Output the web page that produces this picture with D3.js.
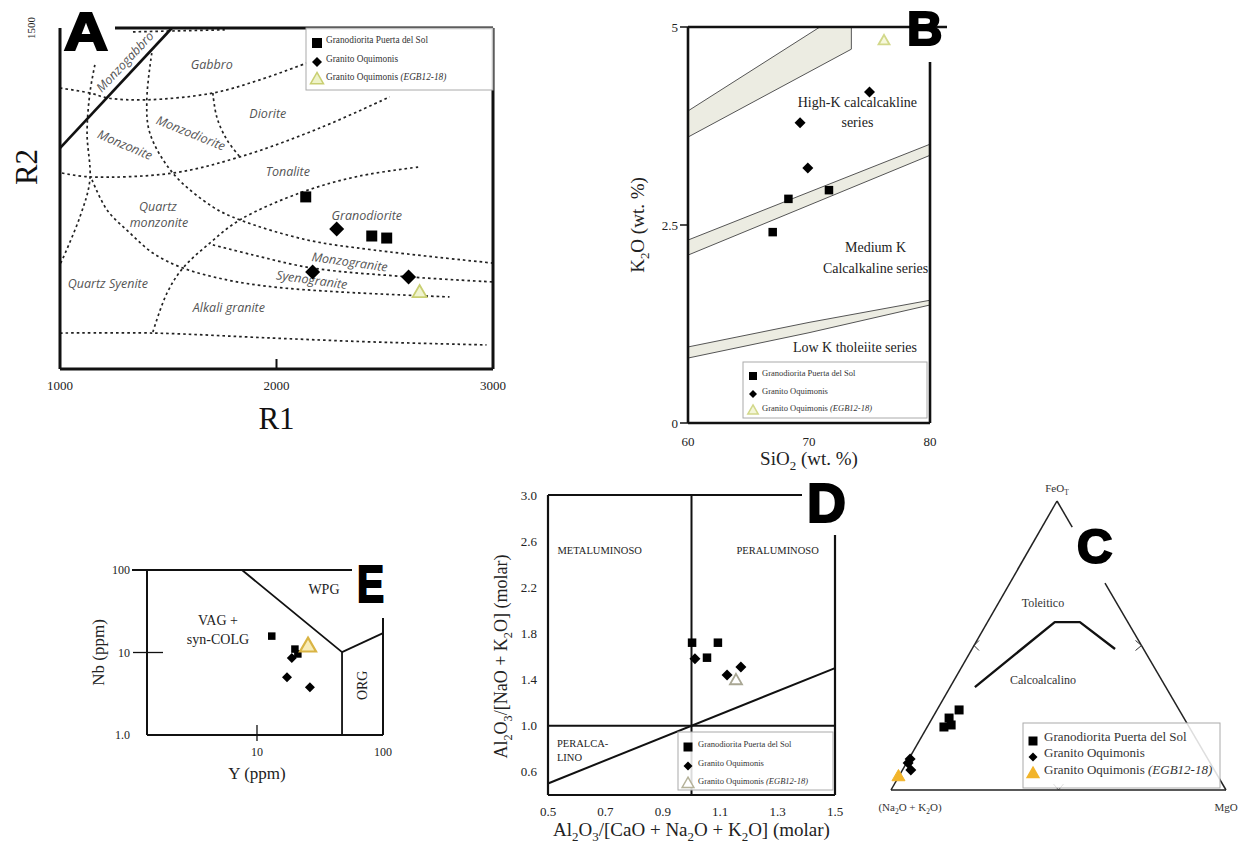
<!DOCTYPE html>
<html>
<head>
<meta charset="utf-8">
<script src="https://cdn.jsdelivr.net/npm/d3@7"></script>
<style>
  body { margin: 0; background: #fff; }
  svg { display: block; }
</style>
</head>
<body>
<svg id="fig" width="1244" height="844"></svg>
<script>
// ---------- data: panel A (R1-R2) ----------
const aSquares = [[2135, 757], [2440, 585], [2509, 576]];
const aDiamonds = [[2278, 616], [2167, 427], [2610, 405]];
const aTriangles = [[2661, 334]];
const aSolid = [[1000, 972], [1517, 1500]];
const aDashed = [
  [[1337, 1483], [1761, 1492]],
  [[1000, 1236], [1138, 1214], [1221, 1192], [1401, 1184], [1706, 1214], [1923, 1272], [2140, 1346]],
  [[1009, 862], [1138, 845], [1521, 862], [1831, 933], [2200, 1060], [2523, 1197]],
  [[1429, 163], [1494, 334], [1568, 444], [1692, 554], [1831, 656], [2121, 779], [2384, 849], [2661, 889]],
  [[1161, 1338], [1138, 1214], [1125, 1038], [1138, 832], [1092, 669], [1000, 458]],
  [[1424, 1390], [1401, 1184], [1415, 1038], [1521, 862], [1706, 713], [1831, 656], [2140, 568], [2444, 524], [3000, 466]],
  [[1148, 832], [1217, 700], [1323, 598], [1429, 510], [1568, 444], [1771, 392], [1983, 361], [2292, 339], [2799, 317]],
  [[1706, 546], [1890, 502], [2167, 444], [2615, 405], [3000, 383]],
  [[1000, 158], [1429, 158], [1983, 136], [2444, 119], [2970, 106]],
  [[1706, 1214], [1724, 1109], [1771, 1008], [1831, 933]]
];
const aFields = [
  ["Monzogabbro", 1300, 1351, -47], ["Gabbro", 1701, 1338, 0], ["Diorite", 1960, 1122, 0],
  ["Monzodiorite", 1604, 1038, 22], ["Monzonite", 1300, 986, 23], ["Tonalite", 2052, 867, 0],
  ["Quartz", 1452, 713, 0], ["monzonite", 1457, 642, 0], ["Granodiorite", 2417, 673, 0],
  ["Monzogranite", 2338, 471, 8], ["Syenogranite", 2163, 392, 8], ["Quartz Syenite", 1221, 374, 0],
  ["Alkali granite", 1780, 268, 0]
];
const aTicks = [1000, 2000, 3000];

// ---------- data: panel B (SiO2-K2O) ----------
const bSquares = [[67.0, 2.41], [68.3, 2.83], [71.65, 2.94]];
const bDiamonds = [[69.26, 3.79], [69.9, 3.22], [75.0, 4.18]];
const bTriangles = [[76.2, 4.82]];
const bBands = [
  [[60, 3.94], [70.9, 5.0], [73.5, 5.0], [73.5, 4.72], [60, 3.61]],
  [[60, 2.31], [80, 3.52], [80, 3.38], [60, 2.12]],
  [[60, 0.96], [70, 1.27], [80, 1.55], [80, 1.49], [70, 1.14], [60, 0.82]]
];
const bXTicks = [60, 70, 80];
const bYTicks = [0, 2.5, 5];
const bYTickLabels = ["0", "2.5", "5"];

// ---------- data: panel E (Y-Nb) ----------
const eSquares = [[13.1, 15.8], [20.0, 11.0], [21.1, 9.6]];
const eDiamonds = [[18.9, 8.6], [17.3, 5.0], [26.3, 3.8]];
const eTriangles = [[25.4, 11.7]];
const eBounds = [
  [[7.6, 100], [47.3, 10.1], [47.3, 1]],
  [[47.3, 10.1], [100, 17.2]]
];

// ---------- data: panel D (A/CNK-A/NK) ----------
const dSquares = [[1.002, 1.72], [1.092, 1.72], [1.054, 1.59]];
const dDiamonds = [[1.012, 1.58], [1.172, 1.51], [1.124, 1.44]];
const dTriangles = [[1.155, 1.39]];
const dXTicks = [0.5, 0.7, 0.9, 1.1, 1.3, 1.5];
const dYTicks = [0.6, 1.0, 1.4, 1.8, 2.2, 2.6, 3.0];

// ---------- data: panel C (AFM ternary, [alk, FeOT, MgO]) ----------
const cSquares = [[0.657, 0.277, 0.066], [0.701, 0.249, 0.050], [0.732, 0.218, 0.050], [0.707, 0.225, 0.068]];
const cDiamonds = [[0.889, 0.107, 0.004], [0.906, 0.069, 0.025], [0.902, 0.093, 0.005]];
const cTriangles = [[0.955, 0.045, 0.0]];
const cCurve = [[0.570, 0.356, 0.074], [0.218, 0.581, 0.201], [0.143, 0.581, 0.276], [0.085, 0.488, 0.427]];

const legendNames = ["Granodiorita Puerta del Sol", "Granito Oquimonis", "Granito Oquimonis "];

// ---------- helpers ----------
const serif = "'Liberation Serif', 'Times New Roman', serif";
const sans = "'Liberation Sans', Arial, sans-serif";
const gill = "'Open Sans', Lato, sans-serif";
const svg = d3.select('#fig');

function sym(type, size) {
  if (type === 'square') return d3.symbol(d3.symbolSquare, size * size)();
  if (type === 'diamond') return d3.symbol(d3.symbolSquare, size * size / 2)();
  return d3.symbol(d3.symbolTriangle, size * size * 0.433)();
}

function marks(g, pts, px, type, size, fill, stroke, sw) {
  g.append('g').selectAll('path').data(pts).join('path')
    .attr('d', sym(type, size))
    .attr('transform', d => {
      const [x, y] = px(d);
      return `translate(${x},${y})` + (type === 'diamond' ? ' rotate(45)' : '');
    })
    .attr('fill', fill)
    .attr('stroke', stroke || 'none')
    .attr('stroke-width', sw || 0);
}

function rich(t, parts, base) {
  let shift = 0;
  parts.forEach(([s, st]) => {
    const target = st === 'sub' ? base * 0.28 : 0;
    const sp = t.append('tspan').text(s).attr('dy', target - shift);
    shift = target;
    if (st === 'sub') sp.attr('font-size', base * 0.68);
    if (st === 'it') sp.attr('font-style', 'italic');
  });
}

function hline(g, x1, x2, y, w) {
  g.append('line').attr('x1', x1).attr('x2', x2).attr('y1', y).attr('y2', y)
    .attr('stroke', '#111').attr('stroke-width', w);
}
function vline(g, x, y1, y2, w) {
  g.append('line').attr('x1', x).attr('x2', x).attr('y1', y1).attr('y2', y2)
    .attr('stroke', '#111').attr('stroke-width', w);
}

function bigLetter(ch, x, y, size, sx) {
  svg.append('text').text(ch)
    .attr('transform', `translate(${x},${y}) scale(${sx},1)`)
    .attr('font-family', sans).attr('font-weight', 'bold').attr('font-size', size)
    .attr('fill', '#000').attr('stroke', '#000').attr('stroke-width', 2.2);
}

function legend(g, box, rowY, mx, tx, fs, ms, tri) {
  g.append('rect').attr('x', box[0]).attr('y', box[1])
    .attr('width', box[2] - box[0]).attr('height', box[3] - box[1])
    .attr('fill', '#fff').attr('fill-opacity', 0.85).attr('stroke', '#aaa').attr('stroke-width', 1);
  const types = ['square', 'diamond', 'triangle'];
  legendNames.forEach((name, i) => {
    const isTri = types[i] === 'triangle';
    marks(g, [[mx, rowY[i]]], d => d, types[i], isTri ? ms * 1.3 : ms,
      isTri ? tri.fill : '#000', isTri ? tri.stroke : null, isTri ? 1.5 : 0);
    const t = g.append('text').attr('x', tx).attr('y', rowY[i]).attr('dy', '0.35em')
      .attr('font-family', serif).attr('font-size', fs).attr('fill', '#333');
    const parts = [[name, '']];
    if (i === 2) parts.push(['(EGB12-18)', 'it']);
    rich(t, parts, fs);
  });
}

// ================= Panel A =================
const xA = d3.scaleLinear().domain([1000, 3000]).range([60, 493]);
const yA = d3.scaleLinear().domain([0, 1500]).range([369, 28]);
const gA = svg.append('g');
const lineA = d3.line().x(d => xA(d[0])).y(d => yA(d[1])).curve(d3.curveCatmullRom.alpha(0.5));

gA.append('g').selectAll('path').data(aDashed).join('path')
  .attr('d', lineA).attr('fill', 'none').attr('stroke', '#222')
  .attr('stroke-width', 1.7).attr('stroke-dasharray', '2.6,3');
gA.append('path').attr('d', d3.line().x(d => xA(d[0])).y(d => yA(d[1]))(aSolid))
  .attr('fill', 'none').attr('stroke', '#111').attr('stroke-width', 2.6);

gA.append('g').selectAll('text').data(aFields).join('text')
  .attr('transform', d => `translate(${xA(d[1])},${yA(d[2])}) rotate(${d[3]})`)
  .attr('text-anchor', 'middle').attr('dy', '0.35em')
  .attr('font-family', gill).attr('font-style', 'italic').attr('font-size', 12.5)
  .attr('fill', '#555').text(d => d[0]);

vline(gA, xA(1000), yA(1500), yA(0), 3);
vline(gA, xA(3000), yA(1500), yA(0), 3);
hline(gA, xA(1000), xA(3000), yA(0), 3);
hline(gA, 115, xA(3000), yA(1500), 3);
vline(gA, xA(2000), yA(0) - 10, yA(0), 2);

legend(gA, [306, 28, 493, 90], [43, 62, 80], 317, 326, 9.3, 10, { fill: '#eef3c8', stroke: '#c9cf72' });

marks(gA, aSquares, d => [xA(d[0]), yA(d[1])], 'square', 11, '#000');
marks(gA, aDiamonds, d => [xA(d[0]), yA(d[1])], 'diamond', 15, '#000');
marks(gA, aTriangles, d => [xA(d[0]), yA(d[1])], 'triangle', 14, '#f0f4d0', '#c9cf72', 1.8);

gA.append('g').selectAll('text').data(aTicks).join('text')
  .attr('x', d => xA(d)).attr('y', 390).attr('text-anchor', 'middle')
  .attr('font-family', serif).attr('font-size', 13).attr('fill', '#222').text(d => d);
gA.append('text').attr('transform', `translate(35,${yA(1500)}) rotate(-90)`)
  .attr('text-anchor', 'middle').attr('font-family', serif).attr('font-size', 11).attr('fill', '#222').text('1500');
gA.append('text').attr('x', xA(2000)).attr('y', 429).attr('text-anchor', 'middle')
  .attr('font-family', serif).attr('font-size', 31).attr('fill', '#111').text('R1');
gA.append('text').attr('transform', 'translate(37,167) rotate(-90)').attr('text-anchor', 'middle')
  .attr('font-family', serif).attr('font-size', 31).attr('fill', '#111').text('R2');

// ================= Panel B =================
const xB = d3.scaleLinear().domain([60, 80]).range([688, 930]);
const yB = d3.scaleLinear().domain([0, 5]).range([423, 27]);
const gB = svg.append('g');
const lineB = d3.line().x(d => xB(d[0])).y(d => yB(d[1]));

gB.append('g').selectAll('path').data(bBands).join('path')
  .attr('d', d => lineB(d) + 'Z').attr('fill', '#ececE2').attr('stroke', '#555').attr('stroke-width', 1);

const bText = [["High-K calcalcakline", 74.0, 4.05], ["series", 74.0, 3.80], ["Medium K", 75.5, 2.22],
  ["Calcalkaline series", 75.5, 1.96], ["Low K tholeiite series", 73.8, 0.96]];
gB.append('g').selectAll('text').data(bText).join('text')
  .attr('x', d => xB(d[1])).attr('y', d => yB(d[2])).attr('dy', '0.35em').attr('text-anchor', 'middle')
  .attr('font-family', serif).attr('font-size', 14).attr('fill', '#222').text(d => d[0]);

vline(gB, xB(60), yB(5), yB(0), 2.6);
vline(gB, xB(80), 62, yB(0), 2.6);
hline(gB, xB(60), xB(80), yB(0), 2.6);
hline(gB, xB(60), 947, yB(5), 2.6);
bYTicks.forEach(v => hline(gB, xB(60) - 8, xB(60), yB(v), 1.5));

legend(gB, [743, 362, 927, 418], [376, 394, 411], 753, 762, 8.5, 8, { fill: '#f4f6d8', stroke: '#d2d88a' });

marks(gB, bSquares, d => [xB(d[0]), yB(d[1])], 'square', 8.5, '#000');
marks(gB, bDiamonds, d => [xB(d[0]), yB(d[1])], 'diamond', 11, '#000');
marks(gB, bTriangles, d => [xB(d[0]), yB(d[1])], 'triangle', 11, '#f6f8dc', '#d2d88a', 1.8);

gB.append('g').selectAll('text').data(bYTicks).join('text')
  .attr('x', xB(60) - 10).attr('y', d => yB(d)).attr('dy', '0.35em').attr('text-anchor', 'end')
  .attr('font-family', serif).attr('font-size', 13).attr('fill', '#222').text((d, i) => bYTickLabels[i]);
gB.append('g').selectAll('text').data(bXTicks).join('text')
  .attr('x', d => xB(d)).attr('y', 446).attr('text-anchor', 'middle')
  .attr('font-family', serif).attr('font-size', 13).attr('fill', '#222').text(d => d);
rich(gB.append('text').attr('x', xB(70)).attr('y', 465).attr('text-anchor', 'middle')
  .attr('font-family', serif).attr('font-size', 19).attr('fill', '#222'),
  [['SiO', ''], ['2', 'sub'], [' (wt. %)', '']], 19);
rich(gB.append('text').attr('transform', `translate(644,${yB(2.5)}) rotate(-90)`).attr('text-anchor', 'middle')
  .attr('font-family', serif).attr('font-size', 19).attr('fill', '#222'),
  [['K', ''], ['2', 'sub'], ['O (wt. %)', '']], 19);

// ================= Panel E =================
const xE = d3.scaleLog().domain([1.34, 100]).range([147, 383]);
const yE = d3.scaleLog().domain([1, 100]).range([735, 570]);
const gE = svg.append('g');
const lineE = d3.line().x(d => xE(d[0])).y(d => yE(d[1]));

gE.append('g').selectAll('path').data(eBounds).join('path')
  .attr('d', lineE).attr('fill', 'none').attr('stroke', '#111').attr('stroke-width', 1.8);
vline(gE, xE(1.34), yE(100), yE(1), 2);
vline(gE, xE(100), 618, yE(1), 2);
hline(gE, xE(1.34), xE(100), yE(1), 2);
hline(gE, 132, 352, yE(100), 2);
hline(gE, 133, 163, yE(10), 1.3);
vline(gE, xE(10), 725, 741, 1.3);

const eText = [["WPG", 34, 59], ["VAG +", 4.9, 24.8], ["syn-COLG", 4.9, 14.6]];
gE.append('g').selectAll('text').data(eText).join('text')
  .attr('x', d => xE(d[1])).attr('y', d => yE(d[2])).attr('dy', '0.35em').attr('text-anchor', 'middle')
  .attr('font-family', serif).attr('font-size', 14).attr('fill', '#222').text(d => d[0]);
gE.append('text').attr('transform', `translate(${xE(68)},${yE(4.0)}) rotate(-90)`)
  .attr('dy', '0.35em').attr('text-anchor', 'middle')
  .attr('font-family', serif).attr('font-size', 14).attr('fill', '#222').text('ORG');

marks(gE, eSquares, d => [xE(d[0]), yE(d[1])], 'square', 7.5, '#000');
marks(gE, eDiamonds, d => [xE(d[0]), yE(d[1])], 'diamond', 10, '#000');
marks(gE, eTriangles, d => [xE(d[0]), yE(d[1])], 'triangle', 16, '#f8ecb8', '#d9b444', 2.2);

const eYTicks = [[100, '100'], [10, '10'], [1, '1.0']];
gE.append('g').selectAll('text').data(eYTicks).join('text')
  .attr('x', 130).attr('y', d => yE(d[0])).attr('dy', '0.35em').attr('text-anchor', 'end')
  .attr('font-family', serif).attr('font-size', 12).attr('fill', '#222').text(d => d[1]);
gE.append('g').selectAll('text').data([10, 100]).join('text')
  .attr('x', d => xE(d)).attr('y', 756).attr('text-anchor', 'middle')
  .attr('font-family', serif).attr('font-size', 12).attr('fill', '#222').text(d => d);
gE.append('text').attr('x', xE(10)).attr('y', 779).attr('text-anchor', 'middle')
  .attr('font-family', serif).attr('font-size', 17).attr('fill', '#222').text('Y (ppm)');
gE.append('text').attr('transform', `translate(104,${yE(10)}) rotate(-90)`).attr('text-anchor', 'middle')
  .attr('font-family', serif).attr('font-size', 17).attr('fill', '#222').text('Nb (ppm)');

// ================= Panel D =================
const xD = d3.scaleLinear().domain([0.5, 1.5]).range([548, 835]);
const yD = d3.scaleLinear().domain([0.4, 3.0]).range([795, 495]);
const gD = svg.append('g');

vline(gD, xD(1.0), yD(3.0), yD(0.4), 2);
hline(gD, xD(0.5), xD(1.5), yD(1.0), 2);
gD.append('line').attr('x1', xD(0.5)).attr('y1', yD(0.5)).attr('x2', xD(1.5)).attr('y2', yD(1.5))
  .attr('stroke', '#111').attr('stroke-width', 2);
vline(gD, xD(0.5), yD(3.0), yD(0.4), 2.2);
vline(gD, xD(1.5), 535, yD(0.4), 2.2);
hline(gD, xD(0.5), xD(1.5), yD(0.4), 2.2);
hline(gD, xD(0.5), 802, yD(3.0), 2.2);

const dText = [["METALUMINOSO", 0.68, 2.52, 'middle'], ["PERALUMINOSO", 1.30, 2.52, 'middle'],
  ["PERALCA-", 0.531, 0.85, 'start'], ["LINO", 0.531, 0.73, 'start']];
gD.append('g').selectAll('text').data(dText).join('text')
  .attr('x', d => xD(d[1])).attr('y', d => yD(d[2])).attr('dy', '0.35em').attr('text-anchor', d => d[3])
  .attr('font-family', serif).attr('font-size', 10.5).attr('fill', '#222').text(d => d[0]);

legend(gD, [678, 732, 833, 790], [747, 766, 784], 688, 698, 8.5, 9, { fill: '#fff', stroke: '#b5b29a' });

marks(gD, dSquares, d => [xD(d[0]), yD(d[1])], 'square', 8.5, '#000');
marks(gD, dDiamonds, d => [xD(d[0]), yD(d[1])], 'diamond', 11, '#000');
marks(gD, dTriangles, d => [xD(d[0]), yD(d[1])], 'triangle', 12, '#fff', '#a9a794', 1.8);

gD.append('g').selectAll('text').data(dYTicks).join('text')
  .attr('x', 537).attr('y', d => yD(d)).attr('dy', '0.35em').attr('text-anchor', 'end')
  .attr('font-family', serif).attr('font-size', 13).attr('fill', '#222').text(d => d.toFixed(1));
gD.append('g').selectAll('text').data(dXTicks).join('text')
  .attr('x', d => xD(d)).attr('y', 816).attr('text-anchor', 'middle')
  .attr('font-family', serif).attr('font-size', 13).attr('fill', '#222').text(d => d.toFixed(1));
rich(gD.append('text').attr('x', xD(1.0)).attr('y', 836).attr('text-anchor', 'middle')
  .attr('font-family', serif).attr('font-size', 19).attr('fill', '#222'),
  [['Al', ''], ['2', 'sub'], ['O', ''], ['3', 'sub'], ['/[CaO + Na', ''], ['2', 'sub'], ['O + K', ''], ['2', 'sub'], ['O] (molar)', '']], 19);
rich(gD.append('text').attr('transform', `translate(507,${yD(1.6)}) rotate(-90)`).attr('text-anchor', 'middle')
  .attr('font-family', serif).attr('font-size', 18).attr('fill', '#222'),
  [['Al', ''], ['2', 'sub'], ['O', ''], ['3', 'sub'], ['/[NaO + K', ''], ['2', 'sub'], ['O] (molar)', '']], 18);

// ================= Panel C (ternary) =================
const cBL = [891, 790], cTop = [1057, 501], cBR = [1226, 790];
const tern = d => [d[0] * cBL[0] + d[1] * cTop[0] + d[2] * cBR[0], d[0] * cBL[1] + d[1] * cTop[1] + d[2] * cBR[1]];
const gC = svg.append('g');
const lineC = d3.line().x(d => tern(d)[0]).y(d => tern(d)[1]);
const cEdges = [
  [[1, 0, 0], [0, 1, 0]],
  [[1, 0, 0], [0, 0, 1]],
  [[0, 1, 0], [0, 0.91, 0.09]],
  [[0, 0.716, 0.284], [0, 0, 1]]
];
gC.append('g').selectAll('path').data(cEdges).join('path')
  .attr('d', lineC).attr('fill', 'none').attr('stroke', '#222').attr('stroke-width', 1.5);

// small chevron ticks at side midpoints
const cMids = [[[0.5, 0.5, 0], 'L'], [[0, 0.5, 0.5], 'R'], [[0.5, 0, 0.5], 'B']];
gC.append('g').selectAll('path').data(cMids).join('path')
  .attr('d', d => {
    const [x, y] = tern(d[0]);
    if (d[1] === 'L') return `M${x + 5},${y - 5}L${x},${y}L${x + 5},${y + 5}`;
    if (d[1] === 'R') return `M${x - 6},${y - 5}L${x},${y}L${x - 6},${y + 5}`;
    return `M${x - 5},${y - 6}L${x},${y}L${x + 5},${y - 6}`;
  })
  .attr('fill', 'none').attr('stroke', '#333').attr('stroke-width', 1);

gC.append('path').attr('d', lineC(cCurve)).attr('fill', 'none').attr('stroke', '#111')
  .attr('stroke-width', 2.4).attr('stroke-linejoin', 'round');

const cText = [["Toleitico", [0.22, 0.647, 0.133]], ["Calcoalcalino", [0.354, 0.381, 0.265]]];
gC.append('g').selectAll('text').data(cText).join('text')
  .attr('x', d => tern(d[1])[0]).attr('y', d => tern(d[1])[1]).attr('dy', '0.35em').attr('text-anchor', 'middle')
  .attr('font-family', serif).attr('font-size', 12).attr('fill', '#333').text(d => d[0]);

legend(gC, [1023, 723, 1220, 788], [741, 757, 774], 1033, 1044, 13, 9, { fill: '#f2b42a', stroke: '#f2b42a' });

marks(gC, cSquares, d => tern(d), 'square', 9, '#000');
marks(gC, cDiamonds, d => tern(d), 'diamond', 11, '#000');
marks(gC, cTriangles, d => tern(d), 'triangle', 13, '#f2b42a', '#f2b42a', 1);

rich(gC.append('text').attr('x', cTop[0]).attr('y', 492).attr('text-anchor', 'middle')
  .attr('font-family', serif).attr('font-size', 11).attr('fill', '#333'),
  [['FeO', ''], ['T', 'sub']], 11);
rich(gC.append('text').attr('x', cBL[0] + 19).attr('y', 811).attr('text-anchor', 'middle')
  .attr('font-family', serif).attr('font-size', 11).attr('fill', '#333'),
  [['(Na', ''], ['2', 'sub'], ['O + K', ''], ['2', 'sub'], ['O)', '']], 11);
gC.append('text').attr('x', cBR[0]).attr('y', 811).attr('text-anchor', 'middle')
  .attr('font-family', serif).attr('font-size', 11).attr('fill', '#333').text('MgO');

// ================= panel letters =================
bigLetter('A', 64, 50, 53, 1.15);
bigLetter('B', 907, 45, 49, 1.0);
bigLetter('E', 357, 602, 52, 0.78);
bigLetter('D', 807, 522, 55, 0.98);
bigLetter('C', 1077, 563, 49, 1.0);
</script>
</body>
</html>
